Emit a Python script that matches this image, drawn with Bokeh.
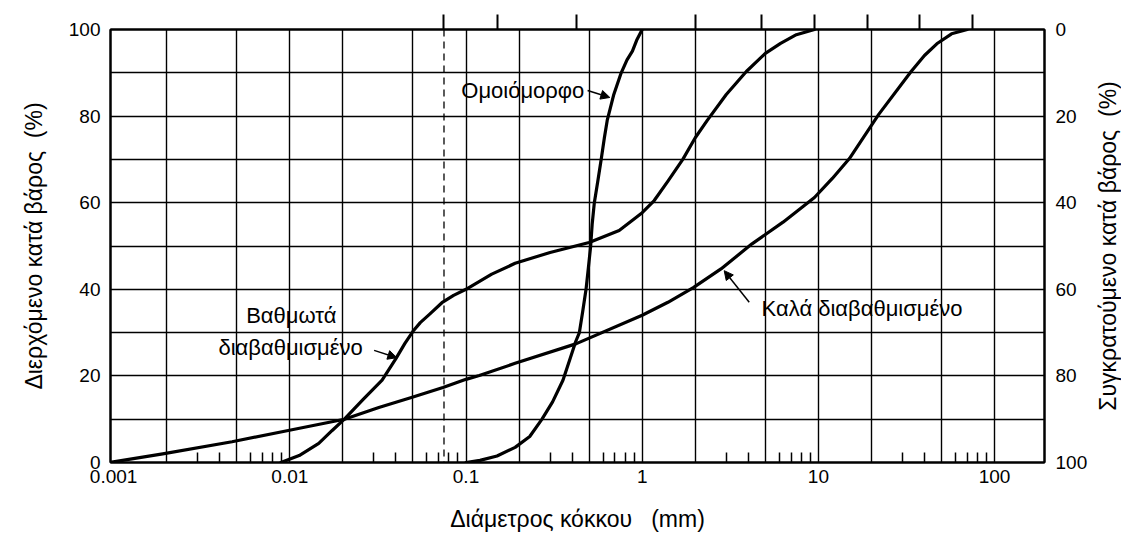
import math
from bokeh.plotting import figure
from bokeh.layouts import row
from bokeh.models import (LogAxis, LinearAxis, Range1d, FixedTicker, CustomJSTickFormatter,
                          Span, Arrow, NormalHead, Label)
from bokeh.embed import file_html
from bokeh.resources import INLINE

FONT = "Liberation Sans"
NB = "\u00a0"

# ---------------- data (grain diameter in mm, percent passing) ----------------
uniform_d = [0.1, 0.12, 0.15, 0.19, 0.23, 0.27, 0.31, 0.355, 0.39, 0.42, 0.44, 0.46, 0.48,
             0.495, 0.51, 0.52, 0.535, 0.56, 0.585, 0.61, 0.633, 0.69, 0.76, 0.82, 0.88, 0.93, 1.0]
uniform_p = [0, 0.5, 1.5, 3.5, 6, 10, 14, 19, 24, 28, 30, 35, 40,
             45, 50, 55, 60, 65, 70, 75, 79, 85, 90, 93, 95, 97.5, 100]

gap_d = [0.0089, 0.0113, 0.0146, 0.0174, 0.0204, 0.026, 0.0334, 0.04, 0.045, 0.05, 0.055,
         0.062, 0.073, 0.085, 0.1, 0.14, 0.19, 0.3, 0.5, 0.74, 1.0, 1.17, 1.4, 1.7, 2.0,
         2.34, 3.0, 3.9, 5.0, 6.1, 7.5, 9.5]
gap_p = [0, 1.6, 4.4, 7.4, 10, 14.5, 19, 24, 27.5, 30.3, 32.3,
         34.2, 36.9, 38.6, 40, 43.5, 46, 48.5, 50.8, 53.6, 57.7, 60.5, 65, 70, 75,
         79, 85, 90.3, 94.5, 96.8, 98.8, 100]

well_d = [0.00095, 0.0019, 0.0047, 0.0098, 0.0204, 0.032, 0.049, 0.074, 0.1, 0.119, 0.19, 0.42,
          1.0, 1.4, 1.95, 2.8, 4.2, 6.3, 9.5, 12, 15, 22, 33.6, 40, 47, 57, 70]
well_p = [0, 2, 4.8, 7.4, 10, 12.7, 15, 17.3, 19.2, 20.1, 22.9, 27.4,
          34, 37, 40.4, 44.7, 50.5, 55.5, 61.2, 65.6, 70.2, 80.4, 90.3, 94, 96.7, 99, 100]

x_ticks = [0.001, 0.01, 0.1, 1, 10, 100]
x_tick_labels = ["0.001", "0.01", "0.1", "1", "10", "100"]
x_grid = [0.002, 0.005, 0.01, 0.02, 0.05, 0.1, 0.2, 0.5, 1, 2, 5, 10, 20, 50, 100]
x_minor = [0.003, 0.004, 0.006, 0.007, 0.008, 0.009,
           0.03, 0.04, 0.06, 0.07, 0.08, 0.09,
           0.3, 0.4, 0.6, 0.7, 0.8, 0.9,
           3, 4, 6, 7, 8, 9,
           30, 40, 60, 70, 80, 90]
sieve_ticks = [0.075, 0.15, 0.425, 2.0, 4.75, 9.5, 19, 37.5, 75]
y_ticks = [0, 20, 40, 60, 80, 100]
y_grid = [10, 20, 30, 40, 50, 60, 70, 80, 90]
fine_limit = 0.075

# ---------------- main figure ----------------
p = figure(x_axis_type="log", x_range=Range1d(0.00096, 192), y_range=Range1d(0, 100),
           frame_width=934, frame_height=433,
           min_border_left=110, min_border_right=47, min_border_top=29, min_border_bottom=78,
           output_backend="svg", toolbar_location=None)
p.background_fill_color = "white"
p.border_fill_color = "white"
p.outline_line_color = "black"
p.outline_line_width = 2

# grids
p.xgrid.ticker = FixedTicker(ticks=x_grid)
p.ygrid.ticker = FixedTicker(ticks=y_grid)
for g in (p.xgrid, p.ygrid):
    g.grid_line_color = "black"
    g.grid_line_width = 1.4
    g.grid_line_alpha = 1.0

fmt = CustomJSTickFormatter(args=dict(xt=x_ticks, xl=x_tick_labels), code="""
const i = xt.findIndex(t => Math.abs(t - tick) <= 1e-9 * Math.abs(t));
return i >= 0 ? xl[i] : '';
""")

# bottom axis
xa = p.xaxis[0]
xa.ticker = FixedTicker(ticks=x_ticks, minor_ticks=x_minor)
xa.formatter = fmt
xa.major_tick_in = 0
xa.major_tick_out = 0
xa.minor_tick_in = 10
xa.minor_tick_out = 0
xa.minor_tick_line_color = "black"
xa.minor_tick_line_width = 1.5
xa.axis_line_color = "black"
xa.axis_line_width = 2
xa.major_label_text_font = FONT
xa.major_label_text_font_size = "19px"
xa.major_label_text_color = "black"
xa.major_label_standoff = 7
xa.axis_label = "Διάμετρος κόκκου" + NB * 3 + "(mm)"
xa.axis_label_text_font = FONT
xa.axis_label_text_font_size = "23px"
xa.axis_label_text_font_style = "normal"
xa.axis_label_text_color = "black"
xa.axis_label_standoff = 20

# left axis
ya = p.yaxis[0]
ya.ticker = FixedTicker(ticks=y_ticks)
ya.major_tick_in = 0
ya.major_tick_out = 0
ya.minor_tick_line_color = None
ya.axis_line_color = "black"
ya.axis_line_width = 2
ya.major_label_text_font = FONT
ya.major_label_text_font_size = "19px"
ya.major_label_text_color = "black"
ya.major_label_standoff = 10
ya.axis_label = "Διερχόμενο κατά βάρος" + NB * 2 + "(%)"
ya.axis_label_text_font = FONT
ya.axis_label_text_font_size = "23px"
ya.axis_label_text_font_style = "normal"
ya.axis_label_text_color = "black"
ya.axis_label_standoff = 19

# right axis (percent retained, reversed)
p.extra_y_ranges = {"ret": Range1d(100, 0)}
ra = LinearAxis(y_range_name="ret", ticker=FixedTicker(ticks=y_ticks))
ra.major_tick_in = 0
ra.major_tick_out = 0
ra.minor_tick_line_color = None
ra.axis_line_color = "black"
ra.axis_line_width = 2
ra.major_label_text_font = FONT
ra.major_label_text_font_size = "19px"
ra.major_label_text_color = "black"
ra.major_label_standoff = 11
p.add_layout(ra, "right")

# top axis (sieve positions, ticks only)
ta = LogAxis(ticker=FixedTicker(ticks=sieve_ticks),
             formatter=CustomJSTickFormatter(code="return '';"))
ta.major_tick_in = 0
ta.major_tick_out = 15
ta.major_tick_line_width = 2
ta.major_tick_line_color = "black"
ta.axis_line_color = "black"
ta.axis_line_width = 2
ta.major_label_text_font_size = "0px"
ta.major_label_standoff = 0
p.add_layout(ta, "above")

# dashed line at 0.075 mm
p.add_layout(Span(location=fine_limit, dimension="height", line_color="black",
                  line_width=1.3, line_dash="7 5"))

# curves
for d, pct in ((uniform_d, uniform_p), (gap_d, gap_p), (well_d, well_p)):
    p.line(d, pct, line_color="black", line_width=3.2, line_join="round", line_cap="round")

# annotations
def head():
    return NormalHead(size=9, fill_color="black", line_color="black", line_width=1)

p.add_layout(Label(x=0.094, y=85.9, text="Ομοιόμορφο", text_font=FONT, text_font_size="22px",
                   text_baseline="middle", text_align="left", text_color="black"))
p.add_layout(Arrow(end=head(), x_start=0.49, y_start=85.9, x_end=0.655, y_end=84.3,
                   line_color="black", line_width=1.5))

p.add_layout(Label(x=0.0102, y=33.9, text="Βαθμωτά", text_font=FONT, text_font_size="22px",
                   text_baseline="middle", text_align="center", text_color="black"))
p.add_layout(Label(x=0.0101, y=26.5, text="διαβαθμισμένο", text_font=FONT, text_font_size="22px",
                   text_baseline="middle", text_align="center", text_color="black"))
p.add_layout(Arrow(end=head(), x_start=0.0301, y_start=25.9, x_end=0.0405, y_end=24.2,
                   line_color="black", line_width=1.5))

p.add_layout(Label(x=17.7, y=35.6, text="Καλά διαβαθμισμένο", text_font=FONT, text_font_size="22px",
                   text_baseline="middle", text_align="center", text_color="black"))
p.add_layout(Arrow(end=head(), x_start=4.05, y_start=37.0, x_end=2.92, y_end=44.3,
                   line_color="black", line_width=1.5))

# ---------------- side strip carrying the right-hand title (reads bottom to top) ----------------
p2 = figure(x_range=Range1d(0, 1), y_range=Range1d(0, 100),
            frame_width=1, frame_height=433,
            min_border_left=0, min_border_right=0, min_border_top=29, min_border_bottom=78,
            output_backend="svg", toolbar_location=None)
p2.outline_line_color = None
p2.background_fill_color = "white"
p2.border_fill_color = "white"
p2.xgrid.visible = False
p2.ygrid.visible = False
p2.xaxis.visible = False
y2 = p2.yaxis[0]
y2.ticker = FixedTicker(ticks=[])
y2.axis_line_color = None
y2.major_tick_line_color = None
y2.minor_tick_line_color = None
y2.major_label_text_font_size = "0px"
y2.major_label_standoff = 0
y2.axis_label = "Συγκρατούμενο κατά βάρος" + NB * 2 + "(%)"
y2.axis_label_text_font = FONT
y2.axis_label_text_font_size = "23px"
y2.axis_label_text_font_style = "normal"
y2.axis_label_text_color = "black"
y2.axis_label_standoff = 0

layout = row(p, p2)
open("out.html", "w").write(file_html(layout, INLINE))
